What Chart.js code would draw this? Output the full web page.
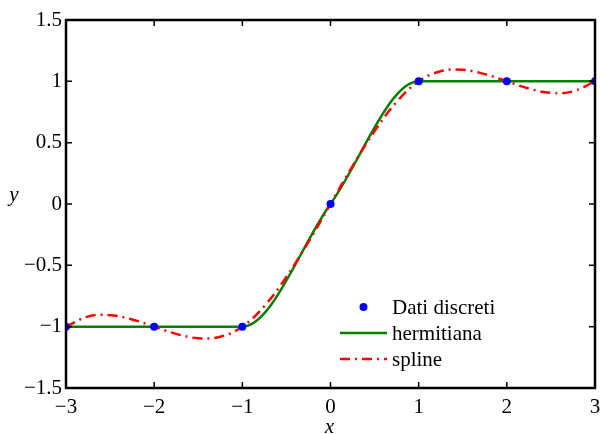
<!DOCTYPE html>
<html lang="it">
<head>
<meta charset="UTF-8">
<title>Dati discreti - hermitiana - spline</title>
<script src="https://cdn.jsdelivr.net/npm/chart.js"></script>
<style>
  body { margin: 0; background: #fff; }
</style>
</head>
<body>
<canvas id="grafico" width="600" height="434"></canvas>
<script>
// punti discreti
const xDati = [-3, -2, -1, 0, 1, 2, 3];
const yDati = [-1, -1, -1, 0, 1, 1, 1];

// curva spline (passo 0.25)
const xSpline = [-3, -2.75, -2.5, -2.25, -2, -1.75, -1.5, -1.25, -1, -0.75, -0.5, -0.25,
                 0, 0.25, 0.5, 0.75, 1, 1.25, 1.5, 1.75, 2, 2.25, 2.5, 2.75, 3];
const ySpline = [-1, -0.918, -0.906, -0.941, -1, -1.059, -1.094, -1.082, -1, -0.832, -0.594, -0.309,
                 0, 0.309, 0.594, 0.832, 1, 1.082, 1.094, 1.059, 1, 0.941, 0.906, 0.918, 1];

const xTicks = [-3, -2, -1, 0, 1, 2, 3];
const yTicks = [-1.5, -1, -0.5, 0, 0.5, 1, 1.5];

const FONT = '"Liberation Serif", "Times New Roman", serif';
const fmt = v => String(v).replace('-', '\u2212');

Chart.defaults.font.family = FONT;
Chart.defaults.font.size = 21;
Chart.defaults.color = '#000';

// box, tacche interne, etichette assi e legenda
const decorazioni = {
    id: 'decorazioni',
    afterDraw(chart) {
        const ctx = chart.ctx;
        const a = chart.chartArea;
        const sx = chart.scales.x, sy = chart.scales.y;
        ctx.save();
        ctx.strokeStyle = '#000';
        ctx.lineWidth = 1.5;
        xTicks.forEach(v => {
            const px = sx.getPixelForValue(v);
            ctx.beginPath();
            ctx.moveTo(px, a.bottom); ctx.lineTo(px, a.bottom - 6);
            ctx.moveTo(px, a.top); ctx.lineTo(px, a.top + 6);
            ctx.stroke();
        });
        yTicks.forEach(v => {
            const py = sy.getPixelForValue(v);
            ctx.beginPath();
            ctx.moveTo(a.left, py); ctx.lineTo(a.left + 6, py);
            ctx.moveTo(a.right, py); ctx.lineTo(a.right - 6, py);
            ctx.stroke();
        });
        ctx.lineWidth = 2.5;
        ctx.strokeRect(a.left, a.top, a.right - a.left, a.bottom - a.top);

        // etichette assi
        ctx.fillStyle = '#000';
        ctx.font = 'italic 21px ' + FONT;
        ctx.textAlign = 'center';
        ctx.textBaseline = 'middle';
        ctx.fillText('x', (a.left + a.right) / 2 - 1, 427);
        ctx.fillText('y', 14, 195);

        // legenda
        const ds = chart.data.datasets;
        const righe = [307, 333, 359];
        const x0 = a.right - 255, x1 = a.right - 208;
        ctx.font = '21px ' + FONT;
        ctx.textAlign = 'left';
        ds.forEach((d, i) => {
            const y = righe[i];
            if (d.showLine) {
                ctx.strokeStyle = d.borderColor;
                ctx.lineWidth = d.borderWidth;
                ctx.setLineDash(d.borderDash || []);
                ctx.beginPath();
                ctx.moveTo(x0, y); ctx.lineTo(x1, y);
                ctx.stroke();
                ctx.setLineDash([]);
            } else {
                ctx.fillStyle = d.backgroundColor;
                ctx.beginPath();
                ctx.arc((x0 + x1) / 2, y, d.pointRadius, 0, Math.PI * 2);
                ctx.fill();
            }
            ctx.fillStyle = '#000';
            ctx.fillText(d.label, x1 + 5, y + 1);
        });
        ctx.restore();
    }
};

new Chart(document.getElementById('grafico'), {
    type: 'scatter',
    data: {
        datasets: [
            {
                label: 'Dati discreti',
                data: xDati.map((x, i) => ({ x, y: yDati[i] })),
                showLine: false,
                pointRadius: 4,
                backgroundColor: '#0000ff',
                borderColor: '#0000ff',
                borderWidth: 0,
                order: 0
            },
            {
                label: 'hermitiana',
                data: xDati.map((x, i) => ({ x, y: yDati[i] })),
                showLine: true,
                cubicInterpolationMode: 'monotone',
                borderColor: '#008000',
                borderWidth: 2.5,
                pointRadius: 0,
                order: 2
            },
            {
                label: 'spline',
                data: xSpline.map((x, i) => ({ x, y: ySpline[i] })),
                showLine: true,
                tension: 0.4,
                borderColor: '#ff0000',
                borderWidth: 2.5,
                borderDash: [10, 5, 2, 5],
                pointRadius: 0,
                order: 1
            }
        ]
    },
    options: {
        responsive: false,
        animation: false,
        devicePixelRatio: 1,
        layout: { padding: { top: 20, right: 5, left: 0, bottom: 0 } },
        plugins: { legend: { display: false }, tooltip: { enabled: false } },
        scales: {
            x: {
                type: 'linear',
                min: -3, max: 3,
                afterBuildTicks: s => { s.ticks = xTicks.map(v => ({ value: v })); },
                afterFit: s => { s.height = 46; s.paddingLeft = 0; s.paddingRight = 0; },
                grid: { display: false, drawTicks: false },
                border: { display: false },
                ticks: {
                    padding: 7,
                    color: '#000',
                    font: { family: FONT, size: 21 },
                    maxRotation: 0,
                    callback: v => fmt(v)
                }
            },
            y: {
                type: 'linear',
                min: -1.5, max: 1.5,
                afterBuildTicks: s => { s.ticks = yTicks.map(v => ({ value: v })); },
                afterFit: s => { s.width = 66; s.paddingTop = 0; s.paddingBottom = 0; },
                grid: { display: false, drawTicks: false },
                border: { display: false },
                ticks: {
                    padding: 4,
                    color: '#000',
                    font: { family: FONT, size: 21 },
                    callback: v => fmt(v)
                }
            }
        }
    },
    plugins: [decorazioni]
});
</script>
</body>
</html>
